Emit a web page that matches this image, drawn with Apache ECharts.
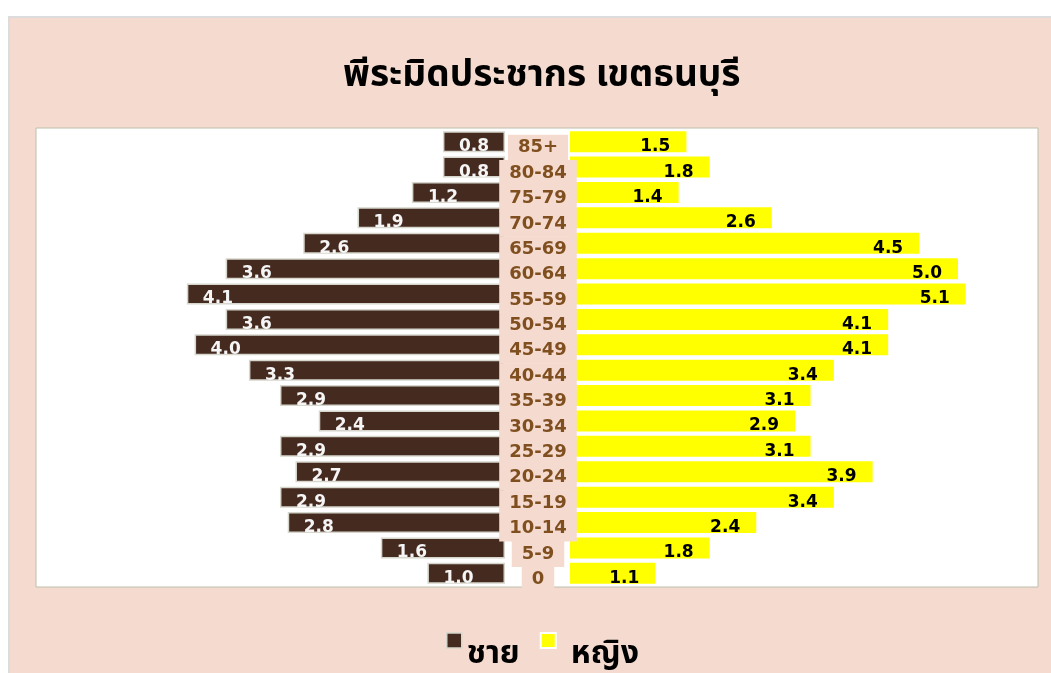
<!DOCTYPE html>
<html>
<head>
<meta charset="utf-8">
<title>พีระมิดประชากร เขตธนบุรี</title>
<script src="https://cdn.jsdelivr.net/npm/echarts@6/dist/echarts.min.js"></script>
<style>
html, body { margin: 0; padding: 0; background: #fff; }
#frame {
    position: absolute; left: 8px; top: 16px; width: 1043px; height: 657px;
    background: #f5dbcf; border-left: 2px solid #dcdcdc; border-top: 2px solid #dcdcdc;
    box-sizing: border-box;
}
#chart { position: absolute; left: 0; top: 0; width: 1051px; height: 673px; }
</style>
</head>
<body>
<div id="frame"></div>
<div id="chart"></div>
<script type="text/javascript">
// กลุ่มอายุ (บนลงล่าง)
var ages = ['85+', '80-84', '75-79', '70-74', '65-69', '60-64', '55-59', '50-54', '45-49',
            '40-44', '35-39', '30-34', '25-29', '20-24', '15-19', '10-14', '5-9', '0'];
// ร้อยละ ชาย / หญิง
var male = [0.8, 0.8, 1.2, 1.9, 2.6, 3.6, 4.1, 3.6, 4.0, 3.3, 2.9, 2.4, 2.9, 2.7, 2.9, 2.8, 1.6, 1.0];
var female = [1.5, 1.8, 1.4, 2.6, 4.5, 5.0, 5.1, 4.1, 4.1, 3.4, 3.1, 2.9, 3.1, 3.9, 3.4, 2.4, 1.8, 1.1];
var seriesNames = ['ชาย', 'หญิง'];

var thaiFont = "'Noto Sans Thai', 'Noto Sans', 'DejaVu Sans', sans-serif";
var numFont = "'DejaVu Sans', sans-serif";

var chart = echarts.init(document.getElementById('chart'));

var option = {
    animation: false,
    title: {
        text: 'พีระมิดประชากร เขตธนบุรี',
        left: 338,
        top: 55,
        textStyle: { fontSize: 37, fontWeight: 'bold', color: '#000', fontFamily: thaiFont }
    },
    legend: {
        left: 441,
        top: 627,
        itemWidth: 15,
        itemHeight: 15,
        itemGap: 20,
        icon: 'rect',
        formatter: function (name) {
            return (name === seriesNames[1] ? '{t2|' : '{t|') + name + '}';
        },
        textStyle: {
            fontSize: 32, fontWeight: 'bold', color: '#000', fontFamily: thaiFont,
            rich: {
                t: { fontSize: 32, fontWeight: 'bold', color: '#000', fontFamily: thaiFont, padding: [33, 0, 0, 0] },
                t2: { fontSize: 32, fontWeight: 'bold', color: '#000', fontFamily: thaiFont, padding: [33, 0, 0, 10] }
            }
        },
        data: [
            { name: seriesNames[0], itemStyle: { color: '#452a20', borderColor: '#d6d6cc', borderWidth: 1.5 } },
            { name: seriesNames[1], itemStyle: { color: '#ffff00', borderColor: '#ffffff', borderWidth: 2 } }
        ]
    },
    grid: [
        { left: 117, top: 129, width: 388, height: 457 },
        { left: 570, top: 129, width: 465.6, height: 457 },
        { left: 36, top: 128, width: 1002, height: 459, show: true, backgroundColor: '#ffffff',
          borderColor: '#bcbfab', borderWidth: 1 },
        // แกนป้ายกลุ่มอายุ เลื่อนลงเล็กน้อยตามต้นฉบับ
        { left: 570, top: 135, width: 465.6, height: 457 }
    ],
    xAxis: [
        { gridIndex: 0, type: 'value', min: 0, max: 5, inverse: true, show: false },
        { gridIndex: 1, type: 'value', min: 0, max: 6, show: false },
        { gridIndex: 2, type: 'value', show: false },
        { gridIndex: 3, type: 'value', show: false }
    ],
    yAxis: [
        { gridIndex: 0, type: 'category', data: ages, inverse: true, show: false },
        { gridIndex: 1, type: 'category', data: ages, inverse: true, show: false },
        { gridIndex: 2, type: 'category', show: false },
        {
            gridIndex: 3, type: 'category', data: ages, inverse: true, position: 'left', z: 10,
            axisLine: { show: false },
            axisTick: { show: false },
            splitLine: { show: false },
            axisLabel: {
                interval: 0,
                margin: 32,
                align: 'center',
                color: '#7f4f1f',
                fontSize: 18,
                fontWeight: 'bold',
                fontFamily: numFont,
                lineHeight: 18,
                backgroundColor: '#f5dbcf',
                padding: [4, 10, 4, 10]
            }
        }
    ],
    series: [
        {
            name: seriesNames[0],
            type: 'bar',
            xAxisIndex: 0,
            yAxisIndex: 0,
            data: male,
            barWidth: 21,
            itemStyle: { color: '#452a20', borderColor: '#d6d6cc', borderWidth: 1.5 },
            label: {
                show: true,
                position: 'insideLeft',
                distance: 16,
                offset: [0, 5],
                color: '#f5f5f5',
                fontSize: 17,
                fontWeight: 'bold',
                fontFamily: numFont,
                formatter: function (p) { return p.value.toFixed(1); }
            }
        },
        {
            name: seriesNames[1],
            type: 'bar',
            xAxisIndex: 1,
            yAxisIndex: 1,
            data: female,
            barWidth: 21,
            itemStyle: { color: '#ffff00' },
            label: {
                show: true,
                position: 'insideRight',
                distance: 16,
                offset: [0, 5],
                color: '#000',
                fontSize: 17,
                fontWeight: 'bold',
                fontFamily: numFont,
                formatter: function (p) { return p.value.toFixed(1); }
            }
        }
    ]
};

chart.setOption(option);
</script>
</body>
</html>
